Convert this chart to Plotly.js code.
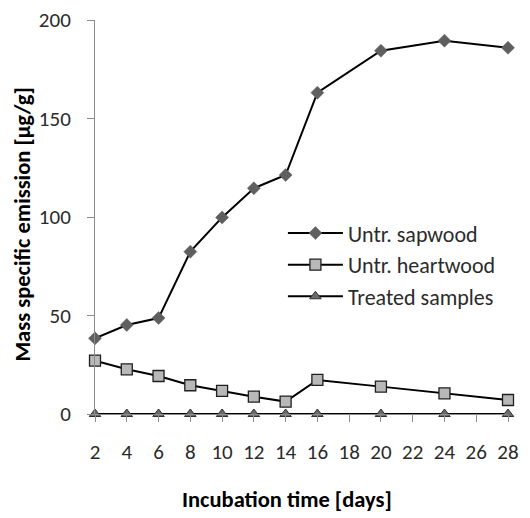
<!DOCTYPE html>
<html>
<head>
<meta charset="utf-8">
<script src="https://cdn.plot.ly/plotly-3.0.1.min.js"></script>
<style>html,body{margin:0;padding:0;background:#fff}#chart{width:530px;height:518px}</style>
</head>
<body>
<div id="chart"></div>
<script>
const days = [2, 4, 6, 8, 10, 12, 14, 16, 20, 24, 28];
const sapwood = [38.4, 45.2, 48.7, 82.4, 99.8, 114.6, 121.3, 163.1, 184.4, 189.5, 185.9];
const heartwood = [27.1, 22.7, 19.3, 14.6, 11.7, 8.8, 6.3, 17.3, 13.9, 10.5, 7.1];
const treated = [0, 0, 0, 0, 0, 0, 0, 0, 0, 0, 0];
const seriesNames = ['Untr. sapwood', 'Untr. heartwood', 'Treated samples'];
const xTicks = [2, 4, 6, 8, 10, 12, 14, 16, 18, 20, 22, 24, 26, 28];
const yTicks = [0, 50, 100, 150, 200];
const xTitle = 'Incubation time [days]';
const yTitle = 'Mass specific emission [µg/g]';

const font = 'Carlito, "Open Sans", "Noto Sans", sans-serif';
const titleFont = {size: 22.5, family: font, weight: 'bold', color: '#000'};
const traces = [
  {x: days, y: sapwood, name: seriesNames[0], mode: 'lines+markers', cliponaxis: false,
   line: {color: '#000', width: 2},
   marker: {symbol: 'diamond', size: 10, color: '#5f5f5f', line: {color: '#5f5f5f', width: 0.5}}},
  {x: days, y: heartwood, name: seriesNames[1], mode: 'lines+markers', cliponaxis: false,
   line: {color: '#000', width: 2},
   marker: {symbol: 'square', size: 11, color: '#b8b8b8', line: {color: '#202020', width: 1.3}}},
  {x: days, y: treated, name: seriesNames[2], mode: 'lines+markers', cliponaxis: false,
   line: {color: '#000', width: 2},
   marker: {symbol: 'triangle-up', size: 10, color: '#6a6a6a', line: {color: '#303030', width: 1}}}
];
const layout = {
  width: 530, height: 518,
  margin: {l: 95, r: 22, t: 20, b: 104},
  paper_bgcolor: '#fff', plot_bgcolor: '#fff',
  font: {family: font, size: 21, color: '#2b2b2b'},
  showlegend: true,
  legend: {x: 0.455, y: 0.512, xanchor: 'left', yanchor: 'top', bgcolor: 'rgba(0,0,0,0)',
           font: {size: 22, color: '#2b2b2b'}, tracegroupgap: 0, itemwidth: 55},
  xaxis: {range: [2, 28], tickmode: 'array', tickvals: xTicks, ticktext: xTicks.map(String),
          showgrid: false, zeroline: false, showline: true, linecolor: '#8c8c8c', linewidth: 1,
          ticks: 'outside', ticklen: 7, tickcolor: '#8c8c8c', tickfont: {size: 21}, ticklabelstandoff: 12},
  yaxis: {range: [0, 200], tickmode: 'array', tickvals: yTicks,
          showgrid: false, zeroline: false, showline: true, linecolor: '#8c8c8c', linewidth: 1,
          ticks: 'outside', ticklen: 7, tickcolor: '#8c8c8c', tickfont: {size: 21}, ticklabelstandoff: 12},
  annotations: [
    {text: xTitle, xref: 'paper', yref: 'paper', x: 0.465, y: -0.218, xanchor: 'center', yanchor: 'middle',
     showarrow: false, font: titleFont},
    {text: yTitle, xref: 'paper', yref: 'paper', x: -0.175, y: 0.48, xanchor: 'center', yanchor: 'middle',
     textangle: -90, showarrow: false, font: titleFont}
  ]
};
Plotly.newPlot('chart', traces, layout, {displayModeBar: false});
</script>
</body>
</html>
